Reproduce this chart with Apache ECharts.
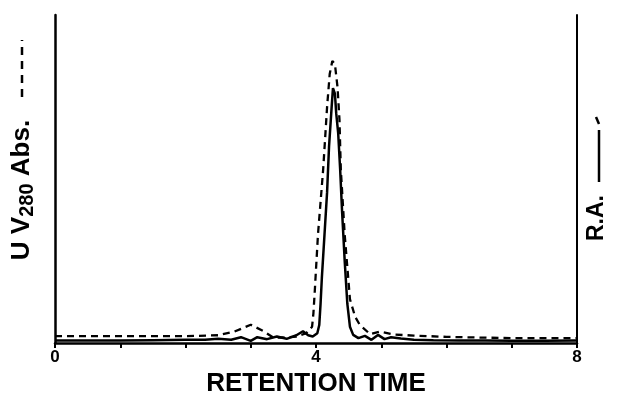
<!DOCTYPE html>
<html>
<head>
<meta charset="utf-8">
<script src="https://cdn.jsdelivr.net/npm/echarts@6/dist/echarts.min.js"></script>
<style>html,body{margin:0;padding:0;background:#fff}#c{width:621px;height:402px}</style>
</head>
<body>
<div id="c"></div>
<script>
// Retention time tick labels
const xTickLabels = ['0', '4', '8'];
// UV280 absorbance (dashed)
const uvTime = [0, 0.5, 1, 1.5, 2, 2.5, 2.75, 3.0, 3.2, 3.35, 3.5, 3.7, 3.85, 3.94, 3.96, 3.98, 4.03, 4.11, 4.17, 4.21, 4.25, 4.29, 4.33, 4.36, 4.38, 4.44, 4.52, 4.60, 4.67, 4.83, 4.98, 5.2, 5.5, 6, 6.5, 7, 7.5, 8];
const uvAbs = [2.1, 2.1, 2.1, 2.1, 2.1, 2.4, 3.5, 5.6, 3.6, 1.6, 1.7, 2.0, 3.0, 5.0, 9, 15.4, 33, 53, 72, 82, 86, 85, 78, 68, 53, 33, 13.4, 8, 5.6, 2.7, 3.5, 2.6, 2.3, 1.9, 1.7, 1.5, 1.5, 1.5];
// Radioactivity (solid)
const raTime = [0, 0.5, 1, 1.5, 2, 2.3, 2.5, 2.7, 2.85, 3.0, 3.1, 3.25, 3.4, 3.55, 3.7, 3.8, 3.88, 3.95, 4.02, 4.05, 4.07, 4.09, 4.13, 4.17, 4.2, 4.24, 4.26, 4.29, 4.31, 4.34, 4.37, 4.40, 4.44, 4.48, 4.52, 4.57, 4.65, 4.75, 4.85, 4.95, 5.05, 5.15, 5.3, 5.5, 5.8, 6.2, 6.6, 7, 7.5, 8];
const raVal = [0.8, 0.8, 0.8, 0.9, 1.0, 1.0, 1.3, 1.0, 1.8, 0.7, 1.8, 1.2, 2.0, 1.3, 2.4, 3.6, 2.4, 2.0, 3.0, 5.5, 12, 20, 33, 46, 60, 72, 77.7, 76, 70, 64, 53, 40, 25, 12, 5, 2.5, 1.5, 2.2, 1.0, 2.5, 1.2, 1.8, 1.4, 1.0, 0.9, 0.8, 0.8, 0.7, 0.7, 0.8];

const FONT = '"Liberation Sans", Arial, sans-serif';
const chart = echarts.init(document.getElementById('c'), null, {renderer: 'canvas'});
const zip = (a, b) => a.map((v, i) => [v, b[i]]);

chart.setOption({
  backgroundColor: '#fff',
  animation: false,
  grid: {left: 55, right: 44, top: 15, bottom: 50},
  xAxis: {
    type: 'value', min: 0, max: 8, interval: 1,
    axisLine: {lineStyle: {color: '#000', width: 2.5}},
    axisTick: {show: true, length: 5, lineStyle: {color: '#000', width: 2}},
    axisLabel: {
      color: '#000', fontFamily: FONT, fontWeight: 'bold', fontSize: 17, margin: 6,
      formatter: v => xTickLabels.indexOf(String(v)) >= 0 ? String(v) : ''
    },
    splitLine: {show: false},
    name: 'RETENTION TIME', nameLocation: 'middle', nameGap: 25,
    nameTextStyle: {color: '#000', fontFamily: FONT, fontWeight: 'bold', fontSize: 26}
  },
  yAxis: [
    {type: 'value', min: 0, max: 100, position: 'left',
     axisLine: {show: true, lineStyle: {color: '#000', width: 2.5}},
     axisTick: {show: false}, axisLabel: {show: false}, splitLine: {show: false}},
    {type: 'value', min: 0, max: 100, position: 'right',
     axisLine: {show: true, lineStyle: {color: '#000', width: 2}},
     axisTick: {show: false}, axisLabel: {show: false}, splitLine: {show: false}}
  ],
  series: [
    {type: 'line', name: 'UV280', data: zip(uvTime, uvAbs), showSymbol: false, z: 3,
     lineStyle: {color: '#000', width: 2.3, type: [7, 5]}},
    {type: 'line', name: 'R.A.', data: zip(raTime, raVal), showSymbol: false, z: 4,
     lineStyle: {color: '#000', width: 2.5}}
  ],
  graphic: [
    {type: 'text', x: 22, y: 190, rotation: Math.PI / 2,
     style: {
       text: '{m|U V}{s|280}{m| Abs.}',
       rich: {
         m: {fontFamily: FONT, fontWeight: 'bold', fontSize: 26, fill: '#000'},
         s: {fontFamily: FONT, fontWeight: 'bold', fontSize: 20, fill: '#000', padding: [10, 0, 0, 0]}
       },
       align: 'center', verticalAlign: 'middle', fill: '#000'
     }},
    {type: 'line', shape: {x1: 22, y1: 97, x2: 22, y2: 40},
     style: {stroke: '#000', lineWidth: 2.5, lineDash: [8, 6]}},
    {type: 'text', x: 597, y: 218, rotation: Math.PI / 2,
     style: {text: 'R.A.', fontFamily: FONT, fontWeight: 'bold', fontSize: 23, fill: '#000',
             align: 'center', verticalAlign: 'middle'}},
    {type: 'line', shape: {x1: 599, y1: 182, x2: 599, y2: 130},
     style: {stroke: '#000', lineWidth: 2.5}},
    {type: 'line', shape: {x1: 596, y1: 117, x2: 599, y2: 124},
     style: {stroke: '#000', lineWidth: 2.5}}
  ]
});
</script>
</body>
</html>
